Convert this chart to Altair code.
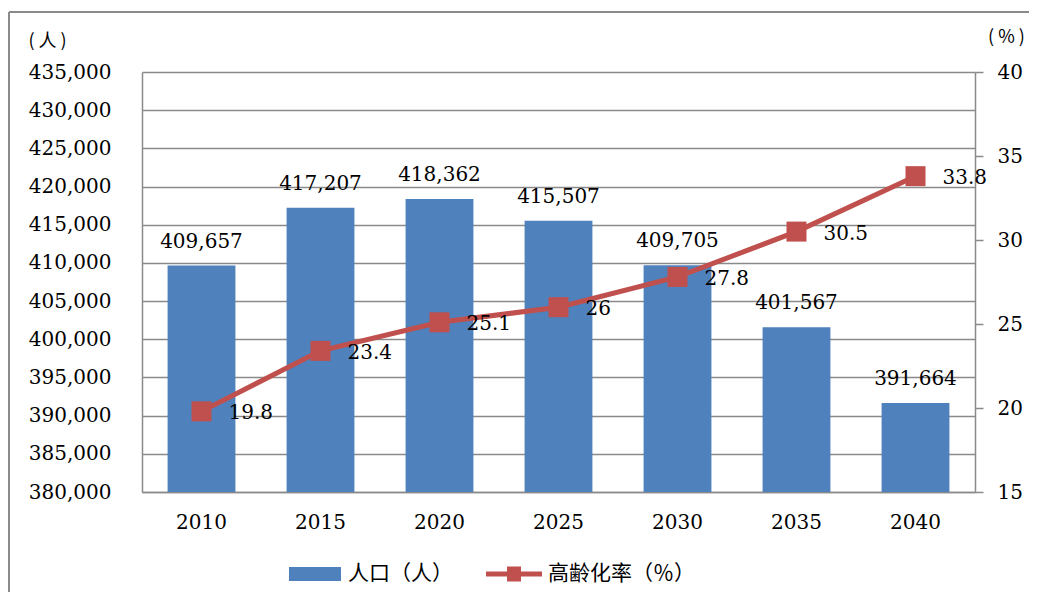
import altair as alt
import pandas as pd

years = ["2010", "2015", "2020", "2025", "2030", "2035", "2040"]
population = [409657, 417207, 418362, 415507, 409705, 401567, 391664]
aging_rate = [19.8, 23.4, 25.1, 26, 27.8, 30.5, 33.8]
left_ticks = [380000, 385000, 390000, 395000, 400000, 405000, 410000, 415000,
              420000, 425000, 430000, 435000]
right_ticks = [15, 20, 25, 30, 35, 40]
bar_series = "人口（人）"
line_series = "高齢化率（％）"
left_title = "(  人  )"
right_title = "(  %  )"

df = pd.DataFrame({"year": years, "population": population, "rate": aging_rate})

SERIF = "DejaVu Serif"
CJK = "Noto Sans CJK SC"
GRAY = "#8a8a8a"
BLUE = "#4F81BD"
RED = "#C0504D"

xenc = alt.X("year:N", sort=years,
             scale=alt.Scale(paddingInner=0.43, paddingOuter=0.215),
             axis=alt.Axis(title=None, labelAngle=0, ticks=False, domainColor=GRAY,
                           domainWidth=1.5, labelPadding=20, labelFont=SERIF,
                           labelFontSize=20, labelColor="black"))

yleft = alt.Y("population:Q",
              scale=alt.Scale(domain=[380000, 435000], nice=False, zero=False),
              axis=alt.Axis(values=left_ticks, format=",d", grid=True, gridColor=GRAY,
                            gridWidth=1.5, domainColor=GRAY, domainWidth=1.5, ticks=False,
                            labelPadding=31, labelFont=SERIF, labelFontSize=20,
                            labelColor="black", title=left_title, titleAngle=0,
                            titleX=-95, titleY=-31, titleAlign="center",
                            titleBaseline="middle", titleFont=CJK, titleFontSize=18,
                            titleFontWeight="normal", titleColor="black", orient="left"))

yright = alt.Y("rate:Q",
               scale=alt.Scale(domain=[15, 40], nice=False, zero=False),
               axis=alt.Axis(values=right_ticks, grid=False, domainColor=GRAY,
                             domainWidth=1.5, ticks=True, tickColor=GRAY, tickWidth=1.5,
                             tickSize=8, labelPadding=14, labelFont=SERIF,
                             labelFontSize=20, labelColor="black", title=right_title,
                             titleAngle=0, titleX=31, titleY=-35, titleAlign="center",
                             titleBaseline="middle", titleFont=CJK, titleFontSize=18,
                             titleFontWeight="normal", titleColor="black", orient="right"))

base = alt.Chart(df).transform_calculate(s1=f"'{bar_series}'", s2=f"'{line_series}'")

bars = base.mark_bar(opacity=1).encode(
    x=xenc, y=yleft, y2=alt.datum(380000),
    color=alt.Color("s1:N", scale=alt.Scale(domain=[bar_series], range=[BLUE]),
                    legend=alt.Legend(orient="none", legendX=146, legendY=475,
                                      direction="horizontal", title=None,
                                      symbolType="M-1,-0.27H1V0.27H-1Z", symbolSize=2704,
                                      symbolFillColor=BLUE, symbolOpacity=1,
                                      labelFont=CJK, labelFontSize=21, labelOffset=6,
                                      labelColor="black", padding=0)))
bar_text = base.mark_text(baseline="alphabetic", dy=-18, font=SERIF, fontSize=20,
                          color="black").encode(
    x=xenc, y=yleft, text=alt.Text("population:Q", format=",d"))

left_layer = alt.layer(bars, bar_text)

line = base.mark_line(color=RED, strokeWidth=5).encode(x=xenc, y=yright)
squares = base.mark_square(size=400, filled=True, opacity=1).encode(
    x=xenc, y=yright,
    fill=alt.Fill("s2:N", scale=alt.Scale(domain=[line_series], range=[RED]),
                  legend=alt.Legend(orient="none", legendX=343, legendY=473,
                                    direction="horizontal", title=None,
                                    symbolType="M-1,-0.09H1V0.09H-1Z M-0.25,-0.27H0.25V0.27H-0.25Z",
                                    symbolSize=3136, labelFont=CJK, labelFontSize=21,
                                    labelOffset=5, labelColor="black", padding=0)))
line_text = base.mark_text(align="left", baseline="middle", dx=27, dy=2, font=SERIF,
                           fontSize=20, color="black").encode(
    x=xenc, y=yright, text=alt.Text("rate:Q"))

right_layer = alt.layer(line, squares, line_text)

frame_df = pd.DataFrame({"k": [0]})
frame_top = alt.Chart(frame_df).mark_rule(color=GRAY, strokeWidth=2).encode(
    x=alt.value(-133), x2=alt.value(1000), y=alt.value(-60))
frame_left = alt.Chart(frame_df).mark_rule(color=GRAY, strokeWidth=2).encode(
    x=alt.value(-133), y=alt.value(-60), y2=alt.value(700))

chart = alt.layer(left_layer, right_layer, frame_top, frame_left).resolve_scale(
    y="independent").properties(
    width=833, height=420,
    padding={"left": 134, "top": 64, "right": 54, "bottom": 100},
    autosize=alt.AutoSizeParams(type="none"),
).configure_view(stroke=None)

chart.save("out.html", embed_options={"renderer": "svg", "actions": False})
